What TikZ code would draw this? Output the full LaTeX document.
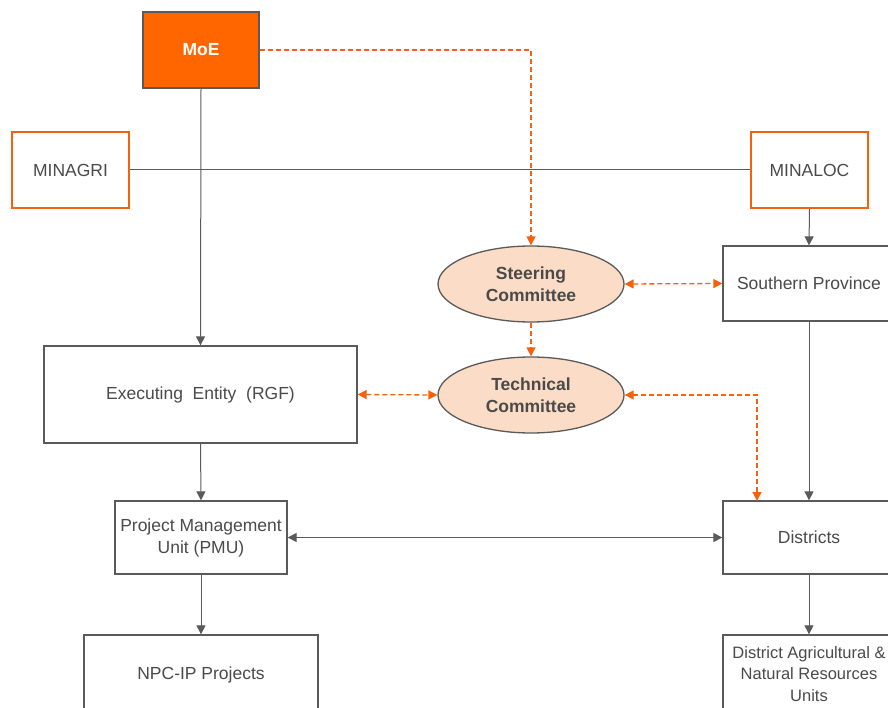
\documentclass[tikz,border=0pt]{standalone}
\usepackage{fontspec}
\setmainfont{Liberation Sans}
\usetikzlibrary{arrows.meta,shapes.geometric}
\definecolor{orng}{HTML}{FF6600}
\definecolor{orline}{HTML}{F5620F}
\definecolor{peach}{HTML}{FBDCC6}
\definecolor{gline}{HTML}{5A5A5A}
\definecolor{gtext}{HTML}{4A4A4A}
\begin{document}
\begin{tikzpicture}[x=1pt,y=-1pt,
  font=\fontsize{17.5}{22}\selectfont,
  box/.style={draw=gline,line width=1.3pt,fill=white,text=gtext,align=center,inner sep=0pt},
  obox/.style={draw=orline,line width=2.2pt,fill=white,text=gtext,align=center,inner sep=0pt},
  ell/.style={ellipse,draw=gline,line width=1.3pt,fill=peach,text=gtext,align=center,inner sep=0pt,font=\fontsize{17.5}{22}\selectfont\bfseries},
  conn/.style={draw=gline,line width=1pt},
  arr/.style={conn,-{Triangle[length=9pt,width=9pt]}},
  darr/.style={conn,{Triangle[length=9pt,width=9pt]}-{Triangle[length=9pt,width=9pt]}},
  oline/.style={color=orline,draw=orline,line width=1.3pt,dash pattern=on 5pt off 3pt},
  odarr/.style={oline,-{Triangle[length=9pt,width=9pt]}},
  oddarr/.style={oline,{Triangle[length=9pt,width=9pt]}-{Triangle[length=9pt,width=9pt]}}
]
\useasboundingbox (0,0) rectangle (888,708);
\begin{scope}
\clip (0,0) rectangle (888,708);
% nodes
\node[box,draw=gline,fill=orng,text=white,font=\fontsize{17.5}{22}\selectfont\bfseries,minimum width=116pt,minimum height=76pt] (moe) at (201,50) {MoE};
\node[obox,minimum width=117pt,minimum height=76pt] (minagri) at (70.5,170) {MINAGRI};
\node[obox,minimum width=117pt,minimum height=76pt] (minaloc) at (809.5,170) {MINALOC};
\node[ell,minimum width=186pt,minimum height=76pt] (steer) at (531,284) {Steering\\Committee};
\node[ell,minimum width=186pt,minimum height=76pt] (tech) at (531,395) {Technical\\Committee};
\node[box,minimum width=172pt,minimum height=75pt] (south) at (809,283.5) {Southern Province};
\node[box,minimum width=313pt,minimum height=97pt] (exec) at (200.5,394.5) {Executing\ \ Entity\ \ (RGF)};
\node[box,minimum width=172pt,minimum height=73pt] (pmu) at (201,537.5) {Project Management\\Unit (PMU)};
\node[box,minimum width=172pt,minimum height=73pt] (dist) at (809,537.5) {Districts};
\node[box,minimum width=234pt,minimum height=80pt] (npc) at (201,675) {NPC-IP Projects};
\node[box,minimum width=172pt,minimum height=78pt,font=\fontsize{16.5}{21.5}\selectfont] (danru) at (809,674) {District Agricultural \&\\Natural Resources\\Units};
\coordinate (dtop) at (757,501);
\coordinate (turn1) at (531,50);
\coordinate (turn2) at (757,395);
% connectors
\draw[conn] (minagri.east) -- (minaloc.west);
\draw[arr] (moe.south) -- (exec.north);
\draw[odarr] (moe.east) -- (turn1) -- (steer.north);
\draw[odarr] (steer.south) -- (tech.north);
\draw[oddarr] (steer.east) -- (south.west);
\draw[arr] (minaloc.south) -- (south.north);
\draw[arr] (south.south) -- (dist.north);
\draw[oddarr] (exec.east) -- (tech.west);
\draw[oddarr] (tech.east) -- (turn2) -- (dtop);
\draw[arr] (exec.south) -- (pmu.north);
\draw[darr] (pmu.east) -- (dist.west);
\draw[arr] (pmu.south) -- (npc.north);
\draw[arr] (dist.south) -- (danru.north);
\end{scope}
\end{tikzpicture}
\end{document}
